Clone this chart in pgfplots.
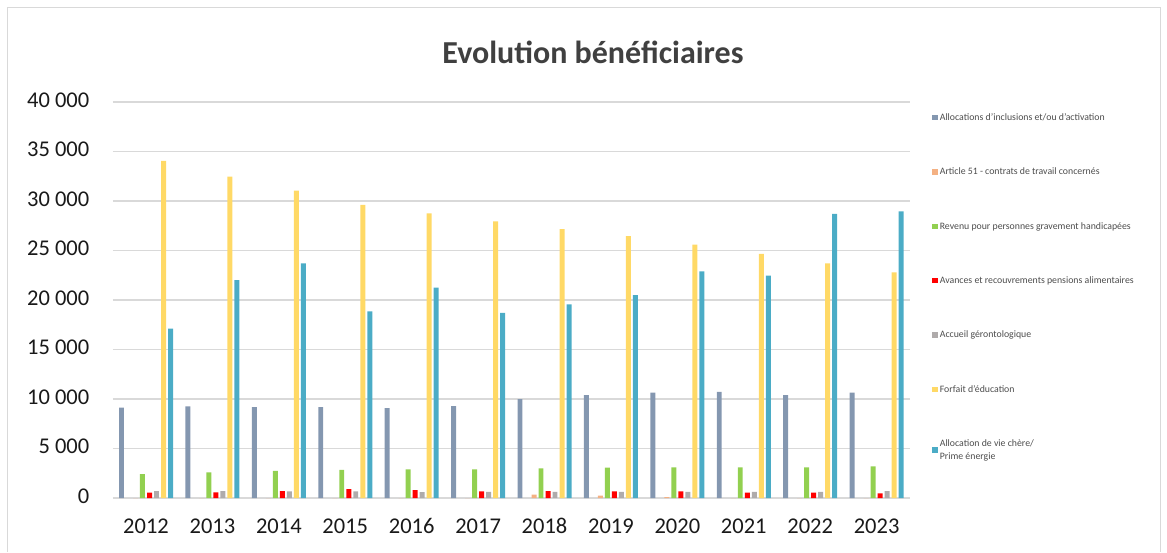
\documentclass[border=0pt]{standalone}
\usepackage{fontspec}
\setmainfont{Carlito}
\usepackage{pgfplots}
\usepackage{pgfplotstable}
\pgfplotsset{compat=1.18}

\definecolor{cAlloc}{HTML}{8497B0}
\definecolor{cArt}{HTML}{F4B183}
\definecolor{cRev}{HTML}{92D050}
\definecolor{cAvc}{HTML}{FF0000}
\definecolor{cAcc}{HTML}{AFABAB}
\definecolor{cForf}{HTML}{FFD966}
\definecolor{cVie}{HTML}{4BACC6}
\definecolor{cGrid}{HTML}{D9D9D9}

% one row per year, x = 0 (2012) ... 11 (2023)
\pgfplotstableread{
x  alloc  art  rev   avc  acc  forf   vie
0  9120   0    2420  550  700  34050  17100
1  9260   0    2600  580  700  32450  22000
2  9190   0    2750  700  680  31050  23700
3  9190   0    2830  900  680  29600  18850
4  9090   0    2900  800  600  28750  21250
5  9290   0    2900  680  620  27950  18700
6  10000  350  3000  700  620  27150  19550
7  10400  250  3070  680  620  26450  20500
8  10640  100  3100  680  620  25600  22900
9  10710  0    3100  550  620  24650  22450
10 10400  0    3100  550  620  23700  28700
11 10640  0    3200  480  700  22800  28950
}\data

\begin{document}
\begin{tikzpicture}[x=1pt,y=1pt]
\path[use as bounding box] (0pt,0pt) rectangle (1167pt,552pt);
\draw[cGrid, line width=1pt] (7pt,0pt) -- (7pt,544pt) -- (1160pt,544pt) -- (1160pt,0pt);
\begin{axis}[
    at={(112.8pt,54pt)}, anchor=south west,
    scale only axis, width=797pt, height=396pt,
    ybar, bar width=0.075,
    xmin=-0.5, xmax=11.5, ymin=0, ymax=40000,
    xtick={0,...,11},
    xticklabels={2012,2013,2014,2015,2016,2017,2018,2019,2020,2021,2022,2023},
    ytick={0,5000,...,40000},
    scaled y ticks=false,
    /pgf/number format/assume math mode=true,
    /pgf/number format/1000 sep={\ },
    major tick length=0pt,
    axis x line*=bottom, axis y line*=left,
    x axis line style={cGrid, line width=1.2pt},
    y axis line style={draw=none},
    ymajorgrids, grid style={cGrid, line width=1.2pt},
    tick label style={font=\fontsize{22.5}{26}\selectfont, text=black!90},
    typeset ticklabels with strut,
    xticklabel style={yshift=-14pt},
    yticklabel style={xshift=-20pt},
    legend style={at={(1.028,0.976)}, anchor=north west, draw=none, fill=none,
        inner sep=0pt, row sep=42pt,
        font=\fontsize{9.8}{13}\selectfont, text=black!70,
        cells={anchor=west, align=left},
        /tikz/every even column/.append style={column sep=0pt}},
    legend image code/.code={\fill[#1] (0pt,-2.5pt) rectangle (5.5pt,3pt);},
]
\addplot[fill=cAlloc, draw=none, bar shift=-0.369] table[x=x, y=alloc] {\data};
\addlegendentry{Allocations d'inclusions et/ou d'activation}
\addplot[fill=cArt, draw=none, bar shift=-0.158] table[x=x, y=art] {\data};
\addlegendentry{Article 51 - contrats de travail concernés}
\addplot[fill=cRev, draw=none, bar shift=-0.053] table[x=x, y=rev] {\data};
\addlegendentry{Revenu pour personnes gravement handicapées}
\addplot[fill=cAvc, draw=none, bar shift=0.053] table[x=x, y=avc] {\data};
\addlegendentry{Avances et recouvrements pensions alimentaires}
\addplot[fill=cAcc, draw=none, bar shift=0.158] table[x=x, y=acc] {\data};
\addlegendentry{Accueil gérontologique}
\addplot[fill=cForf, draw=none, bar shift=0.264] table[x=x, y=forf] {\data};
\addlegendentry{Forfait d'éducation}
\addplot[fill=cVie, draw=none, bar shift=0.369] table[x=x, y=vie] {\data};
\addlegendentry{Allocation de vie chère/\\Prime énergie}
\end{axis}
\node[font=\bfseries\fontsize{32}{36}\selectfont, text=black!75] at (593pt,500pt) {Evolution bénéficiaires};
\end{tikzpicture}
\end{document}
